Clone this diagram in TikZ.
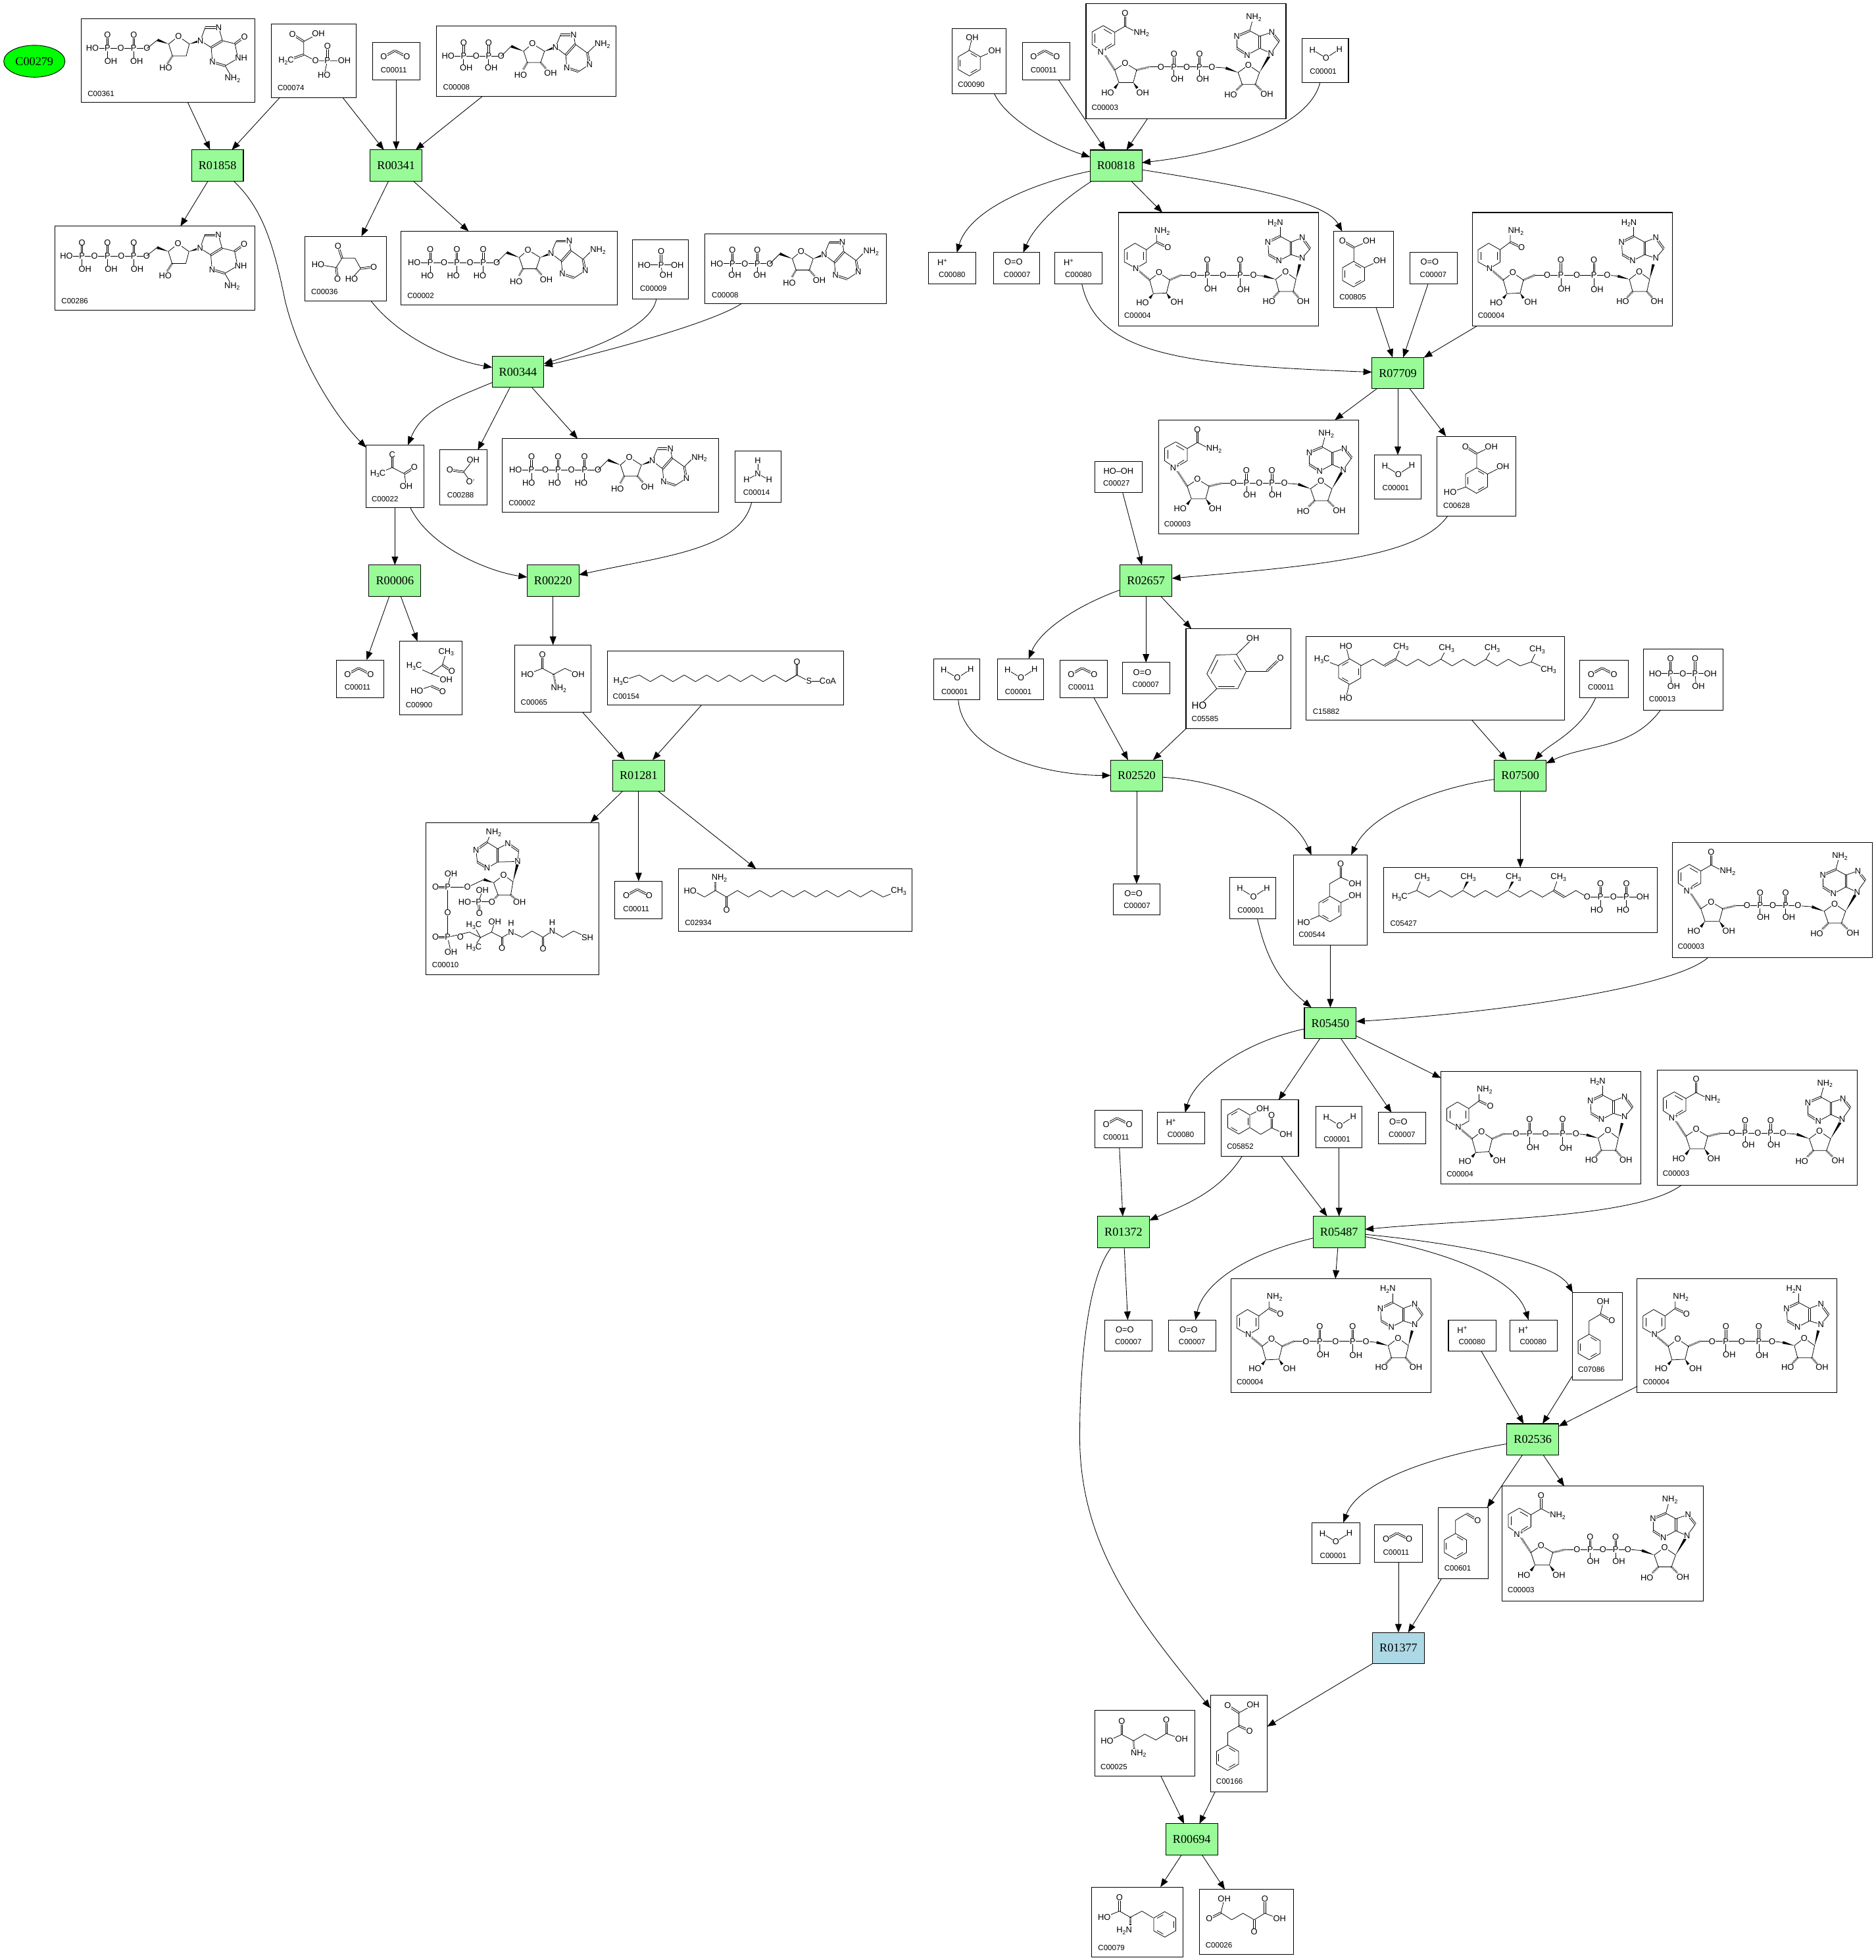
\documentclass[tikz,border=0pt]{standalone}
\usepackage{fontspec}
\setmainfont{Liberation Sans}
\newfontfamily\rxfont{Liberation Serif}
\usetikzlibrary{arrows.meta,shapes.geometric,calc,decorations.pathreplacing}
\newcount\atmc
\newcommand\lowd[1]{\raisebox{-1.4bp}{\fontsize{4.6}{5}\selectfont #1}}
\newcommand\hid[1]{\raisebox{2.4bp}{\fontsize{5}{5}\selectfont #1}}
\newcommand\atm[3]{\global\advance\atmc by 1 \node[atom] (at\the\atmc) at ({#1},{#2}) {#3};}
\newcommand\wdg[4]{\fill ($(#1,#2)$) -- ($(#3,#4)!1.1bp!90:(#1,#2)$) -- ($(#3,#4)!1.1bp!-90:(#1,#2)$) -- cycle;}
\newcommand\hsh[4]{\draw[hashb] (#1,#2) -- (#3,#4);}
\newcommand\bz[3]{%
 \draw[bond] ([shift={(#1,#2)}]30:10.2) -- ([shift={(#1,#2)}]90:10.2) -- ([shift={(#1,#2)}]150:10.2) -- ([shift={(#1,#2)}]210:10.2) -- ([shift={(#1,#2)}]270:10.2) -- ([shift={(#1,#2)}]330:10.2) -- cycle;
 \foreach \k in {0,120,240}{\draw[bond] ([shift={(#1,#2)}]#3+\k+9:7.8) -- ([shift={(#1,#2)}]#3+\k+51:7.8);}}
\newcommand\phosb[6]{\draw[dbond] (#1,#2)--(#1,#3); \draw[bond] (#1,#2)--(#1,#4);
 \atm{#1}{#2}{P}\atm{#1}{#3}{O}\atm{#5}{#4}{#6}}
\newcommand\pur[9]{\draw[bond] (#1)--(#2); \draw[bond] (#3)--(#4); \draw[bond] (#5)--(#1); \draw[bond] (#5)--(#6); \draw[bond] (#7)--(#8); \draw[bond] (#9)--(#4);
 \draw[dbond] (#2)--(#3); \draw[dbond] (#4)--(#5); \draw[dbond] (#6)--(#7); \draw[dbond] (#8)--(#9);
 \atm{#1}{0}{N}}
\makeatletter
\renewcommand\pur[9]{\draw[bond] (#1)--(#2); \draw[bond] (#3)--(#4); \draw[bond] (#5)--(#1); \draw[bond] (#5)--(#6); \draw[bond] (#7)--(#8); \draw[bond] (#9)--(#4);
 \draw[dbond] (#2)--(#3); \draw[dbond] (#4)--(#5); \draw[dbond] (#6)--(#7); \draw[dbond] (#8)--(#9);
 \global\advance\atmc by 1 \node[atom] (at\the\atmc) at (#1) {N};
 \global\advance\atmc by 1 \node[atom] (at\the\atmc) at (#3) {N};
 \global\advance\atmc by 1 \node[atom] (at\the\atmc) at (#6) {N};
 \global\advance\atmc by 1 \node[atom] (at\the\atmc) at (#8) {N};}
\makeatother
% guanosine-type nucleoside
\newcommand\gnuc{%
 \draw[bond] (52.6,23.7)--(61,17); \wdg{70}{20.2}{61}{17}
 \draw[bond] (70,20.2)--(77.8,14)--(86.5,20.2)--(84,29.8)--(73,29.8)--cycle;
 \hsh{73}{29.8}{69}{36} \wdg{86.5}{20.2}{95.4}{17.5}
 \draw[bond] (95.4,17.5)--(99.2,7); \draw[bond] (110,7)--(113,17.5); \draw[bond] (104,23)--(95.4,17.5);
 \draw[bond] (104,23)--(105,34.6); \draw[bond] (115.2,37.7)--(125.4,31.6)--(123,20)--(113,17.5);
 \draw[bond] (115.2,37.7)--(119.4,45);
 \draw[dbond] (99.2,7)--(110,7); \draw[dbond] (113,17.5)--(104,23); \draw[dbond] (105,34.6)--(115.2,37.7); \draw[dbond] (123,20)--(130.6,14.5);
 \atm{77.8}{14}{O}\atm{67.6}{39.5}{HO}\atm{95.4}{17.5}{N}\atm{110}{7}{N}\atm{105}{34.6}{N}\atm{128}{31.6}{NH}\atm{130.6}{14.5}{O}\atm{121}{48}{NH\lowd{2}}}
% adenosine-type nucleoside
\newcommand\anuc{%
 \draw[bond] (52,24)--(60,16); \wdg{70}{20}{60}{16}
 \draw[bond] (70,20)--(77,13.9)--(86.7,20)--(83.6,29)--(73,29)--cycle;
 \hsh{73}{29}{69.5}{35} \hsh{83.6}{29}{88}{34} \wdg{86.7}{20}{95.5}{16.7}
 \pur{95.5,16.7}{99.6,6.8}{110,6.8}{111.3,14.4}{103.7,23}{104.6,33.2}{114,36.3}{122.8,30.5}{121,21.4}
 \draw[bond] (121,21.4)--(127,15.5);
 \atm{77}{13.9}{O}\atm{67.6}{39.3}{HO}\atm{91.6}{37.5}{OH}\atm{133}{14.4}{NH\lowd{2}}}
\newcommand\adpS{%
 \draw[bond] (9.6,24)--(52,24);
 \phosb{22}{24}{13}{33.3}{24}{OH}\phosb{42}{24}{13}{33.3}{44}{OH}
 \atm{9.6}{24}{HO}\atm{32}{24}{O}\atm{52}{24}{O}\anuc}
\newcommand\atpS{%
 \draw[bond] (10.5,25)--(76.5,25);
 \phosb{23.3}{25}{14.5}{35.6}{21}{HO}\phosb{44.6}{25}{14.5}{35.6}{41.8}{HO}\phosb{65.7}{25}{14.5}{35.6}{63}{HO}
 \atm{10.5}{25}{HO}\atm{34.4}{25}{O}\atm{55.2}{25}{O}\atm{76.5}{25}{O}
 \begin{scope}[shift={(24.5,1)}]\anuc\end{scope}}
\newcommand\gdpS{%
 \draw[bond] (9,23.7)--(52.6,23.7);
 \phosb{21}{23.7}{13}{34.2}{23.7}{OH}\phosb{42}{23.7}{13}{34.2}{44.3}{OH}
 \atm{9}{23.7}{HO}\atm{31.6}{23.7}{O}\atm{52.6}{23.7}{O}\gnuc}
\newcommand\gtpS{%
 \draw[bond] (9.2,23.7)--(73.3,23.7);
 \phosb{21.6}{23.7}{13}{34.2}{24}{OH}\phosb{42}{23.7}{13}{34.2}{45}{OH}\phosb{63}{23.7}{13}{34.2}{65.7}{OH}
 \atm{9.2}{23.7}{HO}\atm{31.6}{23.7}{O}\atm{53}{23.7}{O}\atm{73.3}{23.7}{O}
 \begin{scope}[shift={(20.7,0)}]\gnuc\end{scope}}
% NADH
\newcommand\nadhS{%
 \draw[bond] (13.9,44.7)--(4.7,39.5)--(4.7,29.8)--(13.2,24.6)--(22.3,29.8)--(22.3,39.8)--cycle;
 \draw[bond] (7,31.5)--(7,38); \draw[bond] (20,31.5)--(20,38);
 \draw[bond] (22.3,29.8)--(30.5,23.7)--(30.5,17.6); \draw[dbond] (30.5,23.7)--(39.5,28);
 \hsh{15.5}{46}{24.9}{54}
 \draw[bond] (24.9,54)--(32.5,48.2)--(41,54)--(38.4,64.4)--(27.9,64.9)--cycle;
 \wdg{27.9}{64.9}{25}{68.5} \wdg{38.4}{64.4}{41}{68.5}
 \hsh{41}{54}{50.4}{50}
 \draw[bond] (50.4,50)--(108,50);
 \phosb{71}{50}{38.2}{61}{73.7}{OH}\phosb{97.4}{50}{38.2}{61.4}{100}{OH}
 \draw[bond] (108,50)--(116.5,50.9); \wdg{125.8}{53.5}{116.5}{50.9}
 \draw[bond] (125.8,53.5)--(133.7,47.4)--(142,53.5)--(139.8,63.2)--(128.4,63.2)--cycle;
 \hsh{128.4}{63.2}{124}{68} \hsh{139.8}{63.2}{144}{68} \wdg{142}{53.5}{145}{41.5}
 \pur{147,36.5}{153.3,29}{147,20.2}{138,23.7}{138,33.7}{128.4,38.6}{120.2,33.7}{119.6,23.7}{129.3,19}
 \draw[bond] (129.3,19)--(129.3,11);
 \atm{34.9}{14.9}{NH\lowd{2}}\atm{39.5}{28}{O}\atm{13.9}{44.7}{N}\atm{32.5}{48.2}{O}\atm{19.3}{72}{HO}\atm{46.8}{71.6}{OH}
 \atm{60}{50}{O}\atm{83.7}{50}{O}\atm{108}{50}{O}\atm{133.7}{47.4}{O}\atm{120.5}{71}{HO}\atm{148}{71}{OH}
 \atm{125.5}{8.4}{H\lowd{2}N}}
% NAD+
\newcommand\nadS{%
 \draw[bond] (13.2,38.2)--(4.9,32.6)--(4.9,22.5)--(13.8,17.5)--(23,22.8)--(23,32.6)--cycle;
 \draw[bond] (7.2,24)--(7.2,31); \draw[bond] (14.2,20.4)--(20.5,24); \draw[bond] (20.5,32)--(15.5,35.2);
 \draw[bond] (23,22.8)--(31.2,18)--(38,21.5); \draw[dbond] (31.2,18)--(31.2,7.5);
 \hsh{14.5}{40}{23}{53}
 \draw[bond] (23,53)--(31.2,47.4)--(40.5,53)--(37.8,63)--(26.3,63)--cycle;
 \wdg{26.3}{63}{23}{67.5} \wdg{37.8}{63}{41}{67.5}
 \hsh{40.5}{53}{51}{50.5}
 \draw[bond] (51,50.5)--(100.7,50.5);
 \phosb{70.4}{50.5}{40.4}{60}{73}{OH}\phosb{90.8}{50.5}{40.4}{60}{93.4}{OH}
 \draw[bond] (100.7,50.5)--(111.8,51.4); \wdg{121.7}{55}{111.8}{51.4}
 \draw[bond] (121.7,55)--(130,49)--(138.8,55)--(135.5,64.5)--(125,64.5)--cycle;
 \hsh{125}{64.5}{120}{69.5} \hsh{135.5}{64.5}{140.5}{69.5} \wdg{138.8}{55}{146.5}{42}
 \pur{148,39.6}{154.6,30.3}{148.7,22.8}{139,26}{139,35.6}{129,41}{120.7,35.6}{120.7,26}{131,21.6}
 \draw[bond] (131,21.6)--(133,14);
 \atm{31.2}{7.5}{O}\atm{44.4}{23.3}{NH\lowd{2}}\atm{13.2}{38.2}{N\hid{+}}\atm{31.2}{47.4}{O}\atm{17.4}{71}{HO}\atm{45.4}{71}{OH}
 \atm{59.9}{50.5}{O}\atm{80.6}{50.5}{O}\atm{100.7}{50.5}{O}\atm{130}{49}{O}\atm{115.8}{73}{HO}\atm{144.7}{72.5}{OH}
 \atm{134.2}{11}{NH\lowd{2}}}
\newcommand\cotwo{\draw[dbond] (9.1,11.4)--(17.9,6.5)--(27.5,11.4); \atm{9.1}{11.4}{O}\atm{27.5}{11.4}{O}}
\newcommand\water{\draw[bond] (8.2,8.8)--(19,15.4)--(29.8,8.4); \atm{8.2}{8.8}{H}\atm{19}{15.4}{O}\atm{29.8}{8.4}{H}}
\newcommand\hplus{\atm{11}{7.9}{H\hid{+}}}
\newcommand\oxy{\atm{16}{7.7}{O=O}}
% generic compound box
\newcommand\cmp[9]{%
 \pgfmathsetmacro\bw{#4-#2}\pgfmathsetmacro\bh{#5-#3}%
 \node[cbox,minimum width=\bw bp,minimum height=\bh bp] (#1) at ({(#2+#4)/2},{(#3+#5)/2}) {};
 \begin{scope}[shift={(#2,#3)}]#9\node[idt] (#1-id) at (#7,#8) {#6};\end{scope}}
\newcommand\rxn[4]{\node[rbox,fill=#4] (#1) at (#2) {#3};}
\tikzset{
 cbox/.style={draw,rectangle,inner sep=0pt,outer sep=0pt,line width=0.55bp},
 rbox/.style={draw,rectangle,inner sep=0pt,outer sep=0pt,line width=0.55bp,minimum width=41.5bp,minimum height=25bp,font=\rxfont\fontsize{9.6}{10}\selectfont},
 idt/.style={anchor=west,inner sep=0pt,font=\fontsize{6.1}{7}\selectfont},
 atom/.style={fill=white,inner sep=0.15bp,font=\fontsize{6.8}{7}\selectfont},
 bond/.style={line width=0.4bp,line join=round},
 dbond/.style={line width=0.4bp,decorate,decoration={show path construction,lineto code={
   \draw[bond] ($(\tikzinputsegmentfirst)!0.65bp!90:(\tikzinputsegmentlast)$) -- ($(\tikzinputsegmentlast)!0.65bp!-90:(\tikzinputsegmentfirst)$);
   \draw[bond] ($(\tikzinputsegmentfirst)!0.65bp!-90:(\tikzinputsegmentlast)$) -- ($(\tikzinputsegmentlast)!0.65bp!90:(\tikzinputsegmentfirst)$);}}},
 hashb/.style={line width=1.6bp,dash pattern=on 0.35bp off 0.65bp},
 edge/.style={line width=0.45bp,-{Triangle[length=6.8bp,width=5.2bp]}},
}
\definecolor{rgreen}{HTML}{98FB98}
\definecolor{rblue}{HTML}{ADD8E6}
\begin{document}
\begin{tikzpicture}[x=1bp,y=-1bp]
\fill[white] (0,0) rectangle (1501,1568);
\useasboundingbox (0,0) rectangle (1501,1568);
\node[draw,ellipse,fill={rgb,255:red,0;green,255;blue,0},inner sep=0pt,outer sep=0pt,line width=0.5bp,minimum width=49bp,minimum height=25.5bp,font=\rxfont\fontsize{9.6}{10}\selectfont] (c279) at (27.5,49) {C00279};
% ---- left part, compounds
\cmp{c361}{65}{15}{204}{82}{C00361}{5}{60}{\gdpS}
\cmp{c74}{217}{19}{285}{78}{C00074}{5}{51.4}{%
 \draw[bond] (26,14.2)--(37.7,8); \draw[bond] (26,14.2)--(26,24.7)--(35.5,29.6)--(58.5,29.6);
 \draw[dbond] (17,8.4)--(26,14.2); \draw[dbond] (26,24.7)--(12,29.6);\draw[bond] (45,29.6)--(42.4,40.9);\draw[dbond] (45,29.6)--(45,18);
 \atm{17}{8.4}{O}\atm{37.7}{8}{OH}\atm{12}{29.6}{H\lowd{2}C}\atm{35.5}{29.6}{O}\atm{45}{29.6}{P}\atm{45}{18}{O}\atm{58.5}{29.6}{OH}\atm{42.4}{40.9}{HO}}
\cmp{c11a}{298}{34}{336}{64}{C00011}{6.5}{22}{\cotwo}
\cmp{c8a}{349}{21}{493}{77}{C00008}{5.4}{49}{\adpS}
\cmp{c286}{44}{181}{204}{248}{C00286}{5}{60}{\gtpS}
\cmp{c36}{244}{189}{309}{241}{C00036}{4.8}{44.6}{%
 \draw[dbond] (26.5,7.7)--(29.7,17.5); \draw[bond] (10.5,22.6)--(25,25)--(29.7,17.5)--(40,17.5)--(44.6,25.8)--(37.3,34);
 \draw[dbond] (25,25)--(26.1,34); \draw[dbond] (44.6,25.8)--(55,24.6);
 \atm{26.5}{7.7}{O}\atm{55}{24.6}{O}\atm{37.3}{34}{HO}\atm{10.5}{22.6}{HO}\atm{26.1}{34}{O}}
\cmp{c2a}{321}{185}{494}{244}{C00002}{4.8}{51.4}{\atpS}
\cmp{c9}{506}{192}{551}{239}{C00009}{6}{39}{%
 \draw[bond] (9,20)--(35,20); \draw[dbond] (23,20)--(23,9); \draw[bond] (23,20)--(24,28);
 \atm{9.5}{20}{HO}\atm{23}{20}{P}\atm{23}{9}{O}\atm{36}{20}{OH}\atm{27}{28}{OH}}
\cmp{c8b}{564}{187}{709}{243}{C00008}{5.4}{49}{\adpS}
\cmp{c22}{293}{356}{339}{406}{C00022}{4.2}{43}{%
 \draw[dbond] (20.8,7.5)--(20.8,18); \draw[bond] (9.4,23)--(20.8,18)--(30.6,23)--(32,33); \draw[dbond] (30.6,23)--(38.5,18);
 \atm{20.8}{7.5}{C}\atm{9.4}{23}{H\lowd{3}C}\atm{38.5}{18}{O}\atm{32}{33}{OH}}
\cmp{c288}{352}{360}{390}{404}{C00288}{5.7}{36.3}{%
 \draw[bond] (19,17.5)--(26.6,8); \draw[dbond] (19,17.5)--(8,16); \draw[bond] (19,17.5)--(24.5,25.5);
 \atm{26.6}{8}{OH}\atm{8}{16}{O}\atm{24.5}{25.5}{O\hid{-}}}
\cmp{c2b}{402}{351}{575}{410}{C00002}{4.8}{51.4}{\atpS}
\cmp{c14}{588}{361}{625}{402}{C00014}{6.5}{33}{%
 \draw[bond] (18.4,7.7)--(18.4,18); \draw[bond] (9.4,23)--(18.4,18)--(27.4,23);
 \atm{18.4}{7.7}{H}\atm{18.4}{18}{N}\atm{9.4}{23}{H}\atm{27.4}{23}{H}}
\cmp{c11b}{269}{528}{307}{558}{C00011}{6.5}{22}{\cotwo}
\cmp{c900}{320}{513}{370}{572}{C00900}{4.5}{51}{%
 \draw[bond] (37,8.6)--(34,19)--(25,26)--(11.4,20); \draw[dbond] (34,19)--(41.5,24); \draw[bond] (25,26)--(37,30.5);
 \draw[bond] (13.6,39.7)--(25,35.8); \draw[dbond] (25,35.8)--(34.2,40);
 \atm{37}{8.6}{CH\lowd{3}}\atm{11.4}{20}{H\lowd{3}C}\atm{41.5}{24}{O}\atm{37}{30.5}{OH}\atm{13.6}{39.7}{HO}\atm{34.2}{40}{O}}
\cmp{c65}{412}{516}{473}{570}{C00065}{4.5}{45.8}{%
 \draw[dbond] (22,7.6)--(22,18.7); \draw[bond] (10,23.5)--(22,18.7)--(31,23.5)--(40,18.7)--(50.6,23.5); \hsh{31}{23.5}{32.5}{31.5}
 \atm{22}{7.6}{O}\atm{10}{23.5}{HO}\atm{50.6}{23.5}{OH}\atm{35}{34.9}{NH\lowd{2}}}
\cmp{c154}{486}{521}{675}{564}{C00154}{4.2}{36}{%
 \draw[bond] (11,24)--(25.4,19) \foreach \k in {0,...,6}{ -- ({34.4+18.04*\k},24.3) -- ({43.44+18.04*\k},19)};
 \draw[bond] (142.7,24.3)--(151.7,19)--(161.3,24)--(170,24); \draw[dbond] (151.7,19)--(151.7,8.3);
 \atm{11}{24}{H\lowd{3}C}\atm{151.7}{8.3}{O}\atm{161.3}{24}{S}\atm{176.4}{24}{CoA}}
\cmp{c10}{341}{658}{479}{780}{C00010}{4.6}{114}{%
 \pur{73.3,31.2}{74,22.8}{65.4,16.7}{57.2,21}{57.2,31.6}{48.8,36.5}{40.9,31.6}{40,22}{48.8,15.8}
 \draw[bond] (48.8,15.8)--(51,10);
 \wdg{69.5}{47.4}{73}{33.5}
 \draw[bond] (62,42)--(69.5,47.4)--(67.7,57.9)--(57.5,57.9)--(54,48.2)--cycle;
 \wdg{54}{48.2}{46.2}{45.6}\draw[bond] (46.2,45.6)--(33,51.8)--(17.2,51.8)--(17.2,91.8)--(34.7,87.7)--(43.5,92)--(52.3,87.7)--(60.7,92)--(68,87.7)--(76.8,91.8)--(84.7,86.8)--(93.5,91.8)--(100.9,86.8)--(109.3,91.8)--(118,86.8)--(129,92);
 \draw[bond] (17.2,51.8)--(19.8,41.2); \draw[dbond] (17.2,51.8)--(7.5,51.8); \draw[dbond] (17.2,91.8)--(7.5,91.8); \draw[bond] (17.2,91.8)--(19.8,103.5);
 \draw[bond] (38.2,82.5)--(43.5,92)--(38.2,100); \draw[bond] (52.3,87.7)--(54.9,79.5); \draw[dbond] (60.7,92)--(60.7,100.5); \draw[dbond] (93.5,91.8)--(93.5,100.9);
 \hsh{57.5}{57.9}{54}{62}\hsh{67.7}{57.9}{72}{62}
 \draw[bond] (52.6,63.5)--(30.9,63.5); \draw[bond] (42,63.5)--(45,54.4); \draw[dbond] (42,63.5)--(42.6,72.8);
 \atm{54}{8.2}{NH\lowd{2}}\atm{62}{42}{O}\atm{33}{51.8}{O}\atm{17.2}{51.8}{P}\atm{19.8}{41.2}{OH}\atm{7.5}{51.8}{O}\atm{17.2}{72}{O}\atm{17.2}{91.8}{P}\atm{7.5}{91.8}{O}\atm{19.8}{103.5}{OH}
 \atm{27.4}{91.8}{O}\atm{38.2}{82.5}{H\lowd{3}C}\atm{38.2}{100}{H\lowd{3}C}\atm{54.9}{79.5}{OH}\atm{60.7}{100.5}{O}\atm{68}{87.7}{N}\atm{68}{80.7}{H}\atm{93.5}{100.9}{O}\atm{100.9}{86.8}{N}\atm{100.9}{80}{H}\atm{129}{92}{SH}
 \atm{52.6}{63.5}{O}\atm{42}{63.5}{P}\atm{45}{54.4}{OH}\atm{30.9}{63.5}{HO}\atm{42.6}{72.8}{O}\atm{74.7}{63.5}{OH}}
\cmp{c11c}{492}{705}{530}{735}{C00011}{6.5}{22}{\cotwo}
\cmp{c2934}{543}{695}{730}{745}{C02934}{4.9}{43}{%
 \draw[bond] (9.3,17.5)--(14.7,19.3)--(20.7,22.6)--(29.4,17.4)--(38.4,22.6)--(47,17.4) \foreach \k in {0,...,5}{ -- ({56+17.9*\k},22.6) -- ({64.9+17.9*\k},17.4)} -- (163.7,22.6)--(175,18);
 \hsh{29.4}{17.4}{29.4}{10.5} \draw[dbond] (38.4,22.6)--(38.4,33.2);
 \atm{9.3}{17.5}{HO}\atm{32.6}{7.4}{NH\lowd{2}}\atm{38.4}{33.2}{O}\atm{176}{18}{CH\lowd{3}}}
% ---- right part, compounds
\cmp{c90}{762}{23}{805}{75}{C00090}{4.4}{44.7}{%
 \bz{13.6}{27.5}{30}\draw[bond] (13.3,17.4)--(16,6.8); \draw[bond] (22.4,22.5)--(34,17.4);
 \atm{16}{6.8}{OH}\atm{34}{17.4}{OH}}
\cmp{c11d}{818}{34}{856}{64}{C00011}{6.5}{22}{\cotwo}
\cmp{c3c}{869}{3}{1029}{95}{C00003}{4.3}{83}{\nadS}
\cmp{c1a}{1042}{31}{1079}{66}{C00001}{6}{26.3}{\water}
\cmp{c80a}{743}{202}{781}{227}{C00080}{8}{17.7}{\hplus}
\cmp{c7a}{795}{202}{832}{227}{C00007}{8}{17.7}{\oxy}
\cmp{c80b}{844}{202}{882}{227}{C00080}{8}{17.7}{\hplus}
\cmp{c4a}{895}{170}{1055}{261}{C00004}{4.4}{82.5}{\nadhS}
\cmp{c805}{1067}{185}{1115}{246}{C00805}{4.6}{52.8}{%
 \bz{16.1}{34.3}{30}\draw[bond] (16.3,24)--(16.3,13)--(28.6,7.7); \draw[dbond] (16.3,13)--(7.2,7.7); \draw[bond] (25,29)--(37,23.5);
 \atm{7.2}{7.7}{O}\atm{28.6}{7.7}{OH}\atm{37}{23.5}{OH}}
\cmp{c7b}{1128}{202}{1166}{227}{C00007}{8}{17.7}{\oxy}
\cmp{c4b}{1178}{170}{1338}{261}{C00004}{4.4}{82.5}{\nadhS}
\cmp{c3d}{927}{336}{1087}{427}{C00003}{4.3}{83}{\nadS}
\cmp{c1b}{1100}{364}{1137}{399}{C00001}{6}{26.3}{\water}
\cmp{c628}{1150}{349}{1213}{413}{C00628}{4.7}{55.6}{%
 \bz{31.5}{35.4}{30}\draw[bond] (31.6,25)--(31.6,13.9)--(43.3,8.2); \draw[dbond] (31.6,13.9)--(22.6,8.2); \draw[bond] (40.4,30.2)--(52.6,24); \draw[bond] (22.6,40.7)--(10.4,45);
 \atm{22.6}{8.2}{O}\atm{43.3}{8.2}{OH}\atm{52.6}{24}{OH}\atm{10.4}{45}{HO}}
\cmp{c27}{876}{369}{914}{394}{C00027}{6.5}{17.7}{\atm{19}{7.7}{HO--OH}}
\cmp{c1c}{747}{527}{784}{560}{C00001}{6}{26.3}{\water}
\cmp{c1d}{798}{527}{835}{560}{C00001}{6}{26.3}{\water}
\cmp{c11e}{848}{528}{886}{558}{C00011}{6.5}{22}{\cotwo}
\cmp{c7c}{898}{530}{936}{555}{C00007}{8}{17.7}{\oxy}
\cmp{c5585}{949}{503}{1033}{583}{C05585}{4.4}{71.8}{%
 \draw[bond] (40.4,20.5)--(48.2,34)--(41.4,48)--(24.6,48)--(16.7,36)--(24.2,21)--cycle;
 \draw[bond] (38.5,25)--(44,33); \draw[bond] (26,46)--(39,46); \draw[bond] (20,36)--(25.5,25);
 \draw[bond] (40.4,20.5)--(53.5,7.7); \draw[bond] (48.2,34)--(64.6,34); \draw[dbond] (64.6,34)--(75.6,23.5); \draw[bond] (24.6,48)--(10.5,61.6);
 \atm{53.5}{7.7}{OH}\atm{75.6}{23.5}{O}\node[atom,font=\fontsize{8}{9}\selectfont] (hc5585) at (10.5,61.6) {HO};}
\cmp{c15882}{1045}{509}{1252}{576}{C15882}{5.3}{60}{%
 \bz{35}{28.3}{90}
 \draw[bond] (34.5,18)--(32,7.9); \draw[bond] (26.3,23.7)--(12.8,18.6); \draw[bond] (34.5,38.6)--(32,49.3);
 \draw[bond] (43.7,23.7)--(53.6,18.4)--(62.5,23.7); \draw[dbond] (62.5,23.7)--(71.7,18.4);
 \draw[bond] (71.7,18.4)--(80.6,23.7)--(89.8,18.4)--(98.7,23.7)--(108,18.4)--(117,23.7)--(126,18.4)--(135,23.7)--(144,18.4)--(153,23.7)--(162,18.4)--(171.4,23.7)--(180.3,20.5)--(194,26.8);
 \draw[bond] (71.7,18.4)--(76,8.4); \draw[bond] (108,18.4)--(112.5,9.7); \draw[bond] (144,18.4)--(149,9.7); \draw[bond] (180.3,20.5)--(185,10.7);
 \atm{32}{7.9}{HO}\atm{12.8}{18.6}{H\lowd{3}C}\atm{32}{49.3}{HO}\atm{76}{8.4}{CH\lowd{3}}\atm{112.5}{9.7}{CH\lowd{3}}\atm{149}{9.7}{CH\lowd{3}}\atm{185}{10.7}{CH\lowd{3}}\atm{194}{26.8}{CH\lowd{3}}}
\cmp{c11f}{1264}{528}{1303}{558}{C00011}{6.5}{22}{\cotwo}
\cmp{c13}{1315}{519}{1379}{568}{C00013}{4.3}{40.5}{%
 \draw[bond] (9.5,19.8)--(53.6,19.8); \draw[dbond] (21.7,19.8)--(21.7,7.7); \draw[bond] (21.7,19.8)--(22.5,30); \draw[dbond] (41.4,19.8)--(41.4,7.7); \draw[bond] (41.4,19.8)--(42.2,30);
 \atm{9.5}{19.8}{HO}\atm{21.7}{19.8}{P}\atm{21.7}{7.7}{O}\atm{31.6}{19.8}{O}\atm{41.4}{19.8}{P}\atm{41.4}{7.7}{O}\atm{53.6}{19.8}{OH}\atm{24.3}{30}{OH}\atm{44}{30}{OH}}
\cmp{c7d}{891}{707}{928}{732}{C00007}{8}{17.7}{\oxy}
\cmp{c544}{1035}{684}{1094}{756}{C00544}{4}{63.5}{%
 \bz{29.2}{43.2}{90}\draw[bond] (28.9,33)--(28.9,23)--(37.8,17.9)--(49.3,22.8); \draw[dbond] (37.8,17.9)--(37.8,7); \draw[bond] (37.8,38)--(49.3,32.5); \draw[bond] (20.6,48.6)--(8.2,53.9);
 \atm{37.8}{7}{O}\atm{49.3}{22.8}{OH}\atm{49.3}{32.5}{OH}\atm{8.2}{53.9}{HO}}
\cmp{c5427}{1107}{694}{1326}{746}{C05427}{5.3}{44.6}{%
 \draw[bond] (13,23.7)--(26.6,18.4)--(36.5,23.7)--(45.4,18.4)--(54.6,23.7)--(63.5,18.4)--(72.7,23.7)--(81.6,18.4)--(90.8,23.7)--(99.7,18.4)--(109,23.7)--(118,18.4)--(127.3,23.7)--(136.2,18.4);
 \draw[dbond] (136.2,18.4)--(145,23.7); \draw[bond] (145,23.7)--(154,18.4)--(163,23.7)--(207.6,23.7);
 \draw[bond] (26.6,18.4)--(31,7.9); \wdg{63.5}{18.4}{67.8}{10} \wdg{99.7}{18.4}{104}{10} \draw[bond] (136.2,18.4)--(140,7.9);
 \phosb{173.7}{23.7}{13}{33.9}{170.7}{HO}\phosb{194.4}{23.7}{13}{33.9}{191.8}{HO}
 \atm{13}{23.7}{H\lowd{3}C}\atm{31}{7.9}{CH\lowd{3}}\atm{67.8}{7.9}{CH\lowd{3}}\atm{104}{7.9}{CH\lowd{3}}\atm{140}{7.9}{CH\lowd{3}}\atm{163}{23.7}{O}\atm{184}{23.7}{O}\atm{207.6}{23.7}{OH}}
\cmp{c1e}{984}{702}{1021}{735}{C00001}{6}{26.3}{\water}
\cmp{c3e}{1338}{674}{1498}{766}{C00003}{4.3}{83}{\nadS}
\cmp{c11g}{876}{888}{914}{918}{C00011}{6.5}{22}{\cotwo}
\cmp{c80c}{926}{890}{964}{915}{C00080}{8}{17.7}{\hplus}
\cmp{c5852}{977}{880}{1039}{925}{C05852}{4.6}{37.4}{%
 \bz{14.2}{17}{90}\draw[bond] (23.5,11.7)--(33.5,6.8); \draw[bond] (23.5,22.3)--(31.8,27.5)--(40.5,22.3)--(52,27.5); \draw[dbond] (40.5,22.3)--(40.5,12);
 \atm{33.5}{6.8}{OH}\atm{40.5}{12}{O}\atm{52}{27.5}{OH}}
\cmp{c1f}{1053}{885}{1090}{918}{C00001}{6}{26.3}{\water}
\cmp{c7e}{1103}{890}{1141}{915}{C00007}{8}{17.7}{\oxy}
\cmp{c4c}{1153}{857}{1313}{947}{C00004}{4.4}{82.5}{\nadhS}
\cmp{c3f}{1326}{856}{1486}{948}{C00003}{4.3}{83}{\nadS}
\cmp{c7f}{884}{1056}{922}{1081}{C00007}{8}{17.7}{\oxy}
\cmp{c7g}{935}{1056}{973}{1081}{C00007}{8}{17.7}{\oxy}
\cmp{c4d}{985}{1023}{1145}{1114}{C00004}{4.4}{82.5}{\nadhS}
\cmp{c80d}{1159}{1056}{1197}{1081}{C00080}{8}{17.7}{\hplus}
\cmp{c80e}{1208}{1056}{1246}{1081}{C00080}{8}{17.7}{\hplus}
\cmp{c7086}{1258}{1034}{1298}{1104}{C07086}{4.6}{61.4}{%
 \bz{13.6}{43.6}{30}\draw[bond] (13.5,33.4)--(13.5,22.8)--(22.6,17.4)--(24.9,7); \draw[dbond] (22.6,17.4)--(31.7,22.6);
 \atm{24.9}{7}{OH}\atm{31.7}{22.6}{O}}
\cmp{c4e}{1310}{1023}{1470}{1114}{C00004}{4.4}{82.5}{\nadhS}
\cmp{c1g}{1050}{1218}{1088}{1251}{C00001}{6}{26.3}{\water}
\cmp{c11h}{1100}{1220}{1138}{1250}{C00011}{6.5}{22}{\cotwo}
\cmp{c601}{1151}{1206}{1191}{1263}{C00601}{4.6}{48.8}{%
 \bz{13.6}{31}{30}\draw[bond] (13.7,20.8)--(13.7,10.2)--(22.5,4.9); \draw[dbond] (22.5,4.9)--(31.4,10.2);
 \atm{31.4}{10.2}{O}}
\cmp{c3g}{1202}{1189}{1363}{1281}{C00003}{4.3}{83}{\nadS}
\cmp{c166}{968.5}{1356}{1014}{1433.5}{C00166}{4.5}{69}{%
 \bz{13.8}{50.2}{30}\draw[bond] (13.9,40)--(13.9,30)--(22.9,24.7)--(22.9,14.2)--(34.2,8); \draw[dbond] (22.9,14.2)--(13.9,8.4); \draw[dbond] (22.9,24.7)--(31.4,28.6);
 \atm{13.9}{8.4}{O}\atm{34.2}{8}{OH}\atm{31.4}{28.6}{O}}
\cmp{c25}{876}{1368}{956}{1421}{C00025}{4.5}{45.6}{%
 \draw[dbond] (21.6,8.8)--(21.6,19.6); \draw[bond] (9.8,25)--(21.6,19.6)--(31,24.6)--(40,19.3)--(48.9,24)--(57.3,18.8)--(69.5,23.2); \draw[dbond] (57.3,18.8)--(57.3,7.7); \hsh{31}{24.6}{31.5}{31}
 \atm{21.6}{8.8}{O}\atm{9.8}{25}{HO}\atm{35}{34.7}{NH\lowd{2}}\atm{57.3}{7.7}{O}\atm{69.5}{23.2}{OH}}
\cmp{c79}{873.6}{1509.6}{946.7}{1565.7}{C00079}{4.9}{48.8}{%
 \draw[dbond] (22.2,8.4)--(22.2,19.3); \draw[bond] (10,24.2)--(22.2,19.3)--(30.8,24.2)--(40.2,19.3)--(49,24.6); \hsh{30.8}{24.2}{30.8}{31}
 \bz{58.4}{29.9}{90}
 \atm{22.2}{8.4}{O}\atm{10}{24.2}{HO}\atm{26}{35}{H\lowd{2}N}}
\cmp{c26}{959.6}{1511.6}{1035}{1563.6}{C00026}{4.9}{44.6}{%
 \draw[bond] (20,7.7)--(17.3,18.6)--(26,24.2)--(35,19)--(44,24.2)--(52.5,19)--(64.3,23.5); \draw[dbond] (17.3,18.6)--(8,23.5); \draw[dbond] (44,24.2)--(44,34); \draw[dbond] (52.5,19)--(52.5,7.7);
 \atm{20}{7.7}{OH}\atm{8}{23.5}{O}\atm{44}{34}{O}\atm{52.5}{7.7}{O}\atm{64.3}{23.5}{OH}}
% ---- reactions
\rxn{r1858}{174,132.4}{R01858}{rgreen}
\rxn{r341}{317,132.4}{R00341}{rgreen}
\rxn{r344}{414.5,297.5}{R00344}{rgreen}
\rxn{r6}{316,464.5}{R00006}{rgreen}
\rxn{r220}{442.5,464.5}{R00220}{rgreen}
\rxn{r1281}{511,620.5}{R01281}{rgreen}
\rxn{r818}{893,132.5}{R00818}{rgreen}
\rxn{r7709}{1118.5,298.5}{R07709}{rgreen}
\rxn{r2657}{917,464.5}{R02657}{rgreen}
\rxn{r2520}{909.5,620.5}{R02520}{rgreen}
\rxn{r7500}{1216.5,620.5}{R07500}{rgreen}
\rxn{r5450}{1064.5,818.5}{R05450}{rgreen}
\rxn{r1372}{899,985.5}{R01372}{rgreen}
\rxn{r5487}{1071.5,985.5}{R05487}{rgreen}
\rxn{r2536}{1226.5,1151.5}{R02536}{rgreen}
\rxn{r1377}{1119,1318.5}{R01377}{rblue}
\rxn{r694}{953.6,1471.5}{R00694}{rgreen}
% ---- connectors, left
\draw[edge] (c361) -- (r1858);
\draw[edge] (c74) -- (r1858);
\draw[edge] (c74) -- (r341);
\draw[edge] (c11a) -- (r341);
\draw[edge] (c8a) -- (r341);
\draw[edge] (r1858) -- (c286);
\draw[edge] (r1858) .. controls (208,165) and (218,190) .. (228,240) .. controls (240,290) and (270,335) .. (c22);
\draw[edge] (r341) -- (c36);
\draw[edge] (r341) -- (c2a);
\draw[edge] (c36) .. controls (320,270) and (360,288) .. (r344);
\draw[edge] (c9) .. controls (522,262) and (470,280) .. (r344);
\draw[edge] (c8b) .. controls (570,258) and (490,280) .. (r344);
\draw[edge] (r344) .. controls (360,320) and (338,328) .. (c22);
\draw[edge] (r344) -- (c288);
\draw[edge] (r344) -- (c2b);
\draw[edge] (c22) -- (r6);
\draw[edge] (c22) .. controls (345,440) and (395,458) .. (r220);
\draw[edge] (c14) .. controls (592,440) and (530,445) .. (r220);
\draw[edge] (r6) -- (c11b);
\draw[edge] (r6) -- (c900);
\draw[edge] (r220) -- (c65);
\draw[edge] (c65) -- (r1281);
\draw[edge] (c154) -- (r1281);
\draw[edge] (r1281) -- (c10);
\draw[edge] (r1281) -- (c11c);
\draw[edge] (r1281) -- (c2934);
% ---- connectors, right
\draw[edge] (c90) .. controls (805,95) and (840,115) .. (r818);
\draw[edge] (c11d) -- (r818);
\draw[edge] (c3c) -- (r818);
\draw[edge] (c1a) .. controls (1048,100) and (985,122) .. (r818);
\draw[edge] (r818) .. controls (820,148) and (775,170) .. (c80a);
\draw[edge] (r818) .. controls (850,160) and (828,180) .. (c7a);
\draw[edge] (r818) -- (c4a);
\draw[edge] (r818) .. controls (990,148) and (1060,160) .. (c805);
\draw[edge] (c80b) .. controls (878,285) and (950,292) .. (r7709);
\draw[edge] (c805) -- (r7709);
\draw[edge] (c7b) -- (r7709);
\draw[edge] (c4b) -- (r7709);
\draw[edge] (r7709) -- (c3d);
\draw[edge] (r7709) -- (c1b);
\draw[edge] (r7709) -- (c628);
\draw[edge] (c628) .. controls (1135,445) and (1060,452) .. (r2657);
\draw[edge] (c27) -- (r2657);
\draw[edge] (r2657) .. controls (860,485) and (832,505) .. (c1d);
\draw[edge] (r2657) -- (c7c);
\draw[edge] (r2657) -- (c5585);
\draw[edge] (c1c) .. controls (770,600) and (830,620) .. (r2520);
\draw[edge] (c11e) -- (r2520);
\draw[edge] (c5585) -- (r2520);
\draw[edge] (c15882) -- (r7500);
\draw[edge] (c11f) .. controls (1265,585) and (1240,595) .. (r7500);
\draw[edge] (c13) .. controls (1305,600) and (1270,595) .. (r7500);
\draw[edge] (r2520) .. controls (985,625) and (1035,650) .. (c544);
\draw[edge] (r2520) -- (c7d);
\draw[edge] (r7500) .. controls (1150,630) and (1097,650) .. (c544);
\draw[edge] (r7500) -- (c5427);
\draw[edge] (c1e) .. controls (1015,775) and (1030,790) .. (r5450);
\draw[edge] (c544) -- (r5450);
\draw[edge] (c3e) .. controls (1340,790) and (1200,810) .. (r5450);
\draw[edge] (r5450) .. controls (990,835) and (955,865) .. (c80c);
\draw[edge] (r5450) -- (c5852);
\draw[edge] (r5450) -- (c7e);
\draw[edge] (r5450) -- (c4c);
\draw[edge] (c11g) -- (r1372);
\draw[edge] (c5852) .. controls (975,955) and (945,965) .. (r1372);
\draw[edge] (c5852) -- (r5487);
\draw[edge] (c1f) -- (r5487);
\draw[edge] (c3f) .. controls (1310,975) and (1180,975) .. (r5487);
\draw[edge] (r1372) -- (c7f);
\draw[edge] (r1372) .. controls (872,1020) and (864,1080) .. (864,1150) .. controls (864,1240) and (915,1300) .. (c166);
\draw[edge] (r5487) .. controls (990,1005) and (962,1030) .. (c7g);
\draw[edge] (r5487) -- (c4d);
\draw[edge] (r5487) .. controls (1150,1000) and (1212,1020) .. (c80e);
\draw[edge] (r5487) .. controls (1170,995) and (1245,1010) .. (c7086);
\draw[edge] (c80d) -- (r2536);
\draw[edge] (c7086) -- (r2536);
\draw[edge] (c4e) -- (r2536);
\draw[edge] (r2536) .. controls (1130,1168) and (1085,1190) .. (c1g);
\draw[edge] (r2536) -- (c601);
\draw[edge] (r2536) -- (c3g);
\draw[edge] (c11h) -- (r1377);
\draw[edge] (c601) -- (r1377);
\draw[edge] (r1377) -- (c166);
\draw[edge] (c25) -- (r694);
\draw[edge] (c166) -- (r694);
\draw[edge] (r694) -- (c79);
\draw[edge] (r694) -- (c26);
\end{tikzpicture}
\end{document}
